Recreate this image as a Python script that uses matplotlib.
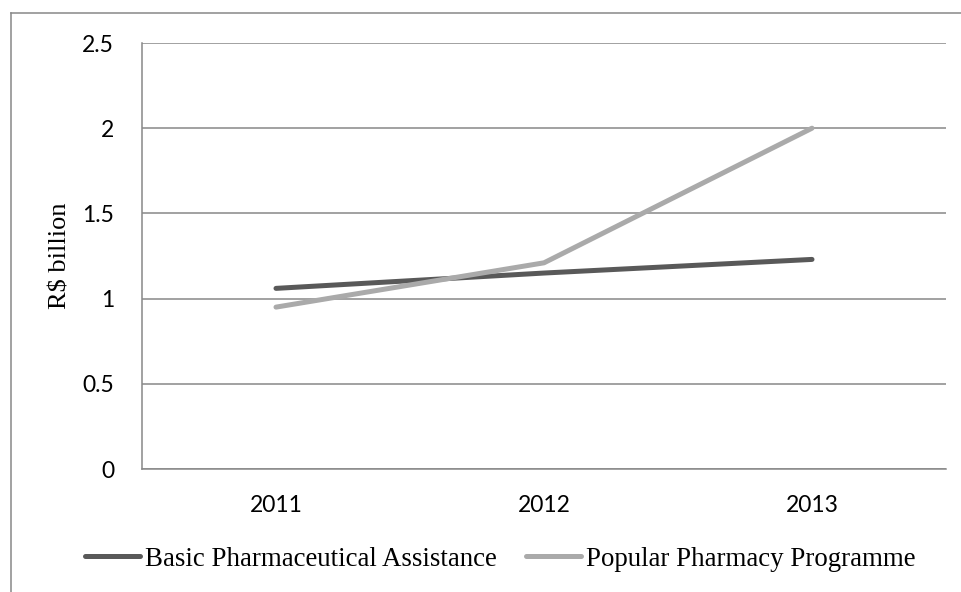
import matplotlib as mpl
mpl.use('Agg')
import matplotlib.pyplot as plt
from matplotlib.lines import Line2D

# spending per year, R$ billion
years = ["2011", "2012", "2013"]
basic = [1.06, 1.15, 1.23]
popular = [0.95, 1.21, 2.0]
names = ["Basic Pharmaceutical Assistance", "Popular Pharmacy Programme"]
y_ticks = [0, 0.5, 1, 1.5, 2, 2.5]
y_tick_labels = ["0", "0.5", "1", "1.5", "2", "2.5"]

W, H = 962, 592
fig = plt.figure(figsize=(W / 100, H / 100), dpi=100)
ax = fig.add_axes([142 / W, 1 - 469 / H, (946 - 142) / W, (469 - 43) / H])

grid_col = '#888888'
x = range(len(years))
ax.plot(x, basic, color='#595959', lw=3.6, solid_capstyle='round', label=names[0], zorder=3)
ax.plot(x, popular, color='#aaaaaa', lw=3.6, solid_capstyle='round', label=names[1], zorder=3)

ax.set_xlim(-0.5, 2.5)
ax.set_ylim(0, 2.5)
ax.set_yticks(y_ticks)
ax.set_yticklabels(y_tick_labels)
ax.set_xticks(list(x))
ax.set_xticklabels(years)
ax.yaxis.grid(True, color=grid_col, lw=1.1)
ax.set_axisbelow(True)

for s in ['top', 'right']:
    ax.spines[s].set_visible(False)
ax.spines['left'].set_color(grid_col)
ax.spines['bottom'].set_color(grid_col)
ax.spines['left'].set_linewidth(1.1)
ax.spines['bottom'].set_linewidth(1.1)

ax.tick_params(axis='y', length=0, pad=20, labelsize=16.5)
ax.tick_params(axis='x', length=0, pad=19, labelsize=16.5)
for t in ax.get_xticklabels() + ax.get_yticklabels():
    t.set_family('Lato')

ax.set_ylabel("R$ billion", family='Liberation Serif', fontsize=19)
ax.yaxis.set_label_coords((71 - 142) / (946 - 142), 0.5)

leg = fig.legend(loc='center left', bbox_to_anchor=(85 / W, 1 - 559 / H),
                 ncol=2, frameon=False, borderpad=0, borderaxespad=0,
                 handlelength=2.04, handletextpad=0.19, columnspacing=1.07,
                 prop={'family': 'Liberation Serif', 'size': 19.4})

# outer chart border (left and top edges, the rest is cropped)
fig.add_artist(Line2D([10.5 / W, 10.5 / W], [0, 1 - 13 / H], color=grid_col, lw=1.1))
fig.add_artist(Line2D([10.5 / W, 1], [1 - 13 / H, 1 - 13 / H], color=grid_col, lw=1.1))

fig.savefig("out.png", dpi=100)
